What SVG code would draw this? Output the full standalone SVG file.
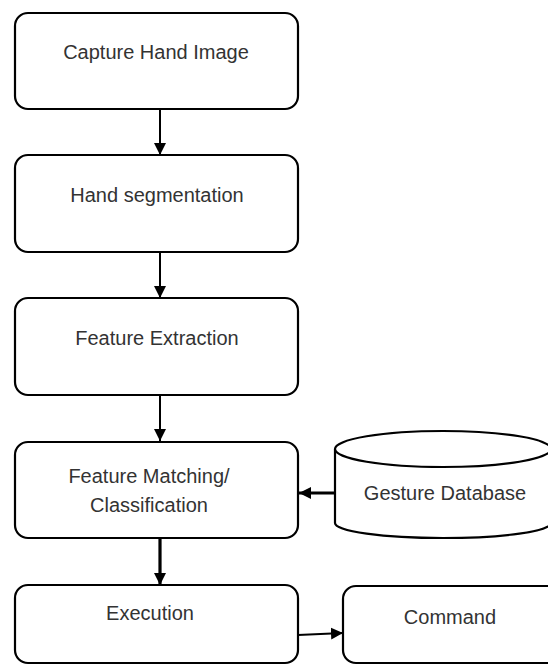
<svg xmlns="http://www.w3.org/2000/svg" width="548" height="665" viewBox="0 0 548 665">
<defs>
<style>
.box{fill:#fff;stroke:#000;stroke-width:2.2}
.lbl{font-family:"Liberation Sans",Arial,sans-serif;font-size:20px;fill:#333;text-anchor:middle}
.ln{stroke:#000;stroke-width:2;fill:none}
.lnb{stroke:#000;stroke-width:3.2;fill:none}
</style>
<marker id="ah" viewBox="0 0 10 10" refX="10" refY="5" markerWidth="12" markerHeight="12" markerUnits="userSpaceOnUse" orient="auto"><path d="M0,0 L10,5 L0,10 z" fill="#000"/></marker>
<marker id="ahb" viewBox="0 0 10 10" refX="10" refY="5" markerWidth="12" markerHeight="12" markerUnits="userSpaceOnUse" orient="auto"><path d="M0,0 L10,5 L0,10 z" fill="#000"/></marker>
</defs>
<rect width="548" height="665" fill="#fff"/>
<g id="connectors">
<line class="ln" x1="160" y1="109" x2="160" y2="155" marker-end="url(#ah)"/>
<line class="ln" x1="160" y1="252" x2="160" y2="298" marker-end="url(#ah)"/>
<line class="ln" x1="160" y1="395" x2="160" y2="441" marker-end="url(#ah)"/>
<line class="lnb" x1="160" y1="538" x2="160" y2="585" marker-end="url(#ahb)"/>
<line class="lnb" x1="335" y1="493" x2="299" y2="493" marker-end="url(#ahb)"/>
<line class="ln" x1="298" y1="635" x2="343" y2="633" marker-end="url(#ah)"/>
</g>
<g id="capture">
<rect class="box" x="15" y="13" width="283" height="96" rx="13"/>
<text class="lbl" x="156" y="59">Capture Hand Image</text>
</g>
<g id="segmentation">
<rect class="box" x="15" y="155" width="283" height="97" rx="13"/>
<text class="lbl" x="157" y="202">Hand segmentation</text>
</g>
<g id="extraction">
<rect class="box" x="15" y="298" width="283" height="97" rx="13"/>
<text class="lbl" x="157" y="345">Feature Extraction</text>
</g>
<g id="matching">
<rect class="box" x="15" y="442" width="283" height="96" rx="13"/>
<text class="lbl" x="149" y="483">Feature Matching/</text>
<text class="lbl" x="149" y="512">Classification</text>
</g>
<g id="database">
<path class="box" d="M335,449 L335,523 A108,15 0 0 0 551,523 L551,449"/>
<ellipse class="box" cx="443" cy="449" rx="108" ry="18"/>
<text class="lbl" x="445" y="500">Gesture Database</text>
</g>
<g id="execution">
<rect class="box" x="15" y="585" width="283" height="78" rx="13"/>
<text class="lbl" x="150" y="620">Execution</text>
</g>
<g id="command">
<rect class="box" x="343" y="586" width="220" height="77" rx="13"/>
<text class="lbl" x="450" y="624">Command</text>
</g>
</svg>
